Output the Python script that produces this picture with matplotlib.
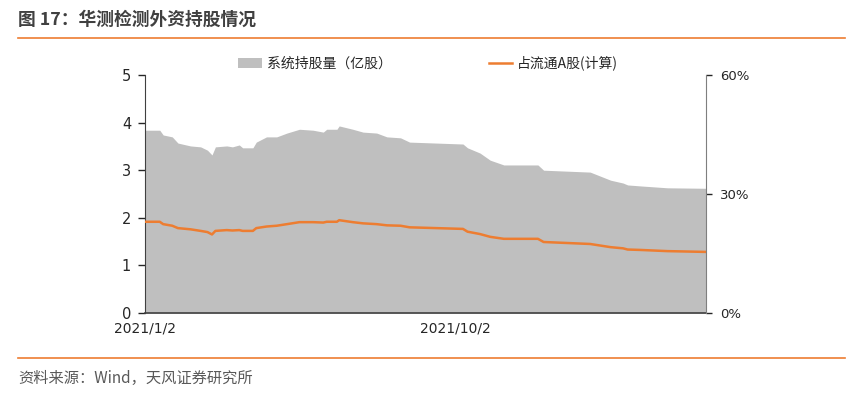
import matplotlib
matplotlib.use("Agg")
import matplotlib.pyplot as plt
from matplotlib.patches import Patch
from matplotlib.lines import Line2D
import pandas as pd

plt.rcParams['font.family'] = ['Noto Sans CJK SC', 'DejaVu Sans']

dates = ["2021-01-02", "2021-01-15", "2021-01-18", "2021-01-26", "2021-01-31",
         "2021-02-11", "2021-02-20", "2021-02-26", "2021-03-02", "2021-03-05",
         "2021-03-15", "2021-03-20", "2021-03-26", "2021-03-29", "2021-04-07",
         "2021-04-10", "2021-04-19", "2021-04-28", "2021-05-07", "2021-05-18",
         "2021-05-30", "2021-06-08", "2021-06-11", "2021-06-20", "2021-06-22",
         "2021-07-04", "2021-07-13", "2021-07-25", "2021-08-03", "2021-08-15",
         "2021-08-23", "2021-10-09", "2021-10-13", "2021-10-24", "2021-11-02",
         "2021-11-14", "2021-12-14", "2021-12-19", "2022-01-29", "2022-02-16",
         "2022-02-27", "2022-03-03", "2022-03-14", "2022-04-07", "2022-05-11"]
holdings = [3.84, 3.84, 3.74, 3.70, 3.57, 3.51, 3.49, 3.42, 3.32, 3.49,
            3.51, 3.49, 3.53, 3.47, 3.47, 3.59, 3.70, 3.70, 3.78, 3.86,
            3.84, 3.80, 3.86, 3.86, 3.93, 3.86, 3.80, 3.78, 3.70, 3.68,
            3.59, 3.55, 3.47, 3.36, 3.21, 3.11, 3.11, 3.00, 2.96, 2.79,
            2.73, 2.69, 2.67, 2.63, 2.62]
ratio_pct = [23.0, 23.0, 22.4, 22.0, 21.4, 21.1, 20.7, 20.4, 19.8, 20.7,
             20.9, 20.8, 20.9, 20.7, 20.7, 21.4, 21.8, 22.0, 22.4, 22.9,
             22.9, 22.8, 23.0, 23.0, 23.4, 22.9, 22.6, 22.4, 22.1, 22.0,
             21.6, 21.2, 20.5, 19.9, 19.2, 18.7, 18.7, 17.9, 17.4, 16.6,
             16.3, 16.0, 15.9, 15.6, 15.4]
xtick_dates = ["2021-01-02", "2021-10-02"]
xtick_labels = ["2021/1/2", "2021/10/2"]
left_ticks = [0, 1, 2, 3, 4, 5]
right_ticks = [0, 30, 60]

title = "图 17：华测检测外资持股情况"
source = "资料来源：Wind，天风证券研究所"
label_area = "系统持股量（亿股）"
label_line = "占流通A股(计算)"

d = pd.to_datetime(dates)
W, H = 862, 395
fig = plt.figure(figsize=(W / 100, H / 100), dpi=100)

ax = fig.add_axes([145 / W, (H - 313) / H, (706 - 145) / W, (313 - 75) / H])
ax.fill_between(d, holdings, 0, color="#BFBFBF", linewidth=0)
ax.set_ylim(0, 5)
ax.set_yticks(left_ticks)
ax.set_xlim(d[0], d[-1])
ax.set_xticks(pd.to_datetime(xtick_dates))
ax.set_xticklabels(xtick_labels)
ax.tick_params(axis='x', length=0, pad=6, labelsize=10, colors="#262626")
ax.tick_params(axis='y', length=5, width=1, direction='out', labelsize=10.5,
               colors="#262626", pad=5)
for lab in ax.get_xticklabels() + ax.get_yticklabels():
    lab.set_family("DejaVu Sans")
for s in ["top", "right"]:
    ax.spines[s].set_visible(False)
ax.spines["left"].set_color("#404040")
ax.spines["bottom"].set_color("#404040")
ax.spines["bottom"].set_linewidth(1.2)

ax2 = ax.twinx()
ax2.plot(d, ratio_pct, color="#ED7D31", linewidth=1.8)
ax2.set_ylim(0, 60)
ax2.set_yticks(right_ticks)
ax2.set_yticklabels([f"{t}%" for t in right_ticks])
ax2.tick_params(axis='y', length=4, width=1, direction='out', labelsize=9.5,
                colors="#262626", pad=6)
for lab in ax2.get_yticklabels():
    lab.set_family("DejaVu Sans")
for s in ["top", "left", "bottom"]:
    ax2.spines[s].set_visible(False)
ax2.spines["right"].set_color("#7F7F7F")
ax2.set_xlim(d[0], d[-1])

handles = [Patch(facecolor="#BFBFBF", edgecolor="none"),
           Line2D([0], [0], color="#ED7D31", linewidth=1.8)]
leg = ax.legend(handles, [label_area, label_line], ncol=2, frameon=False,
                loc="center", bbox_to_anchor=(0.505, 1.05), fontsize=10,
                handlelength=1.7, handleheight=0.75, handletextpad=0.35,
                columnspacing=7.0, borderaxespad=0)
for t in leg.get_texts():
    t.set_color("#262626")

fig.text(18 / W, 1 - 20 / H, title, fontsize=12.8, fontweight="bold",
         color="#404040", va="center", ha="left")
fig.add_artist(Line2D([18 / W, 845 / W], [1 - 38 / H, 1 - 38 / H],
                      color="#ED7D31", linewidth=1.2))
fig.add_artist(Line2D([18 / W, 845 / W], [1 - 358 / H, 1 - 358 / H],
                      color="#ED7D31", linewidth=1.2))
fig.text(18 / W, 1 - 378 / H, source, fontsize=11, color="#595959",
         va="center", ha="left")

fig.savefig("out.png", dpi=100)
